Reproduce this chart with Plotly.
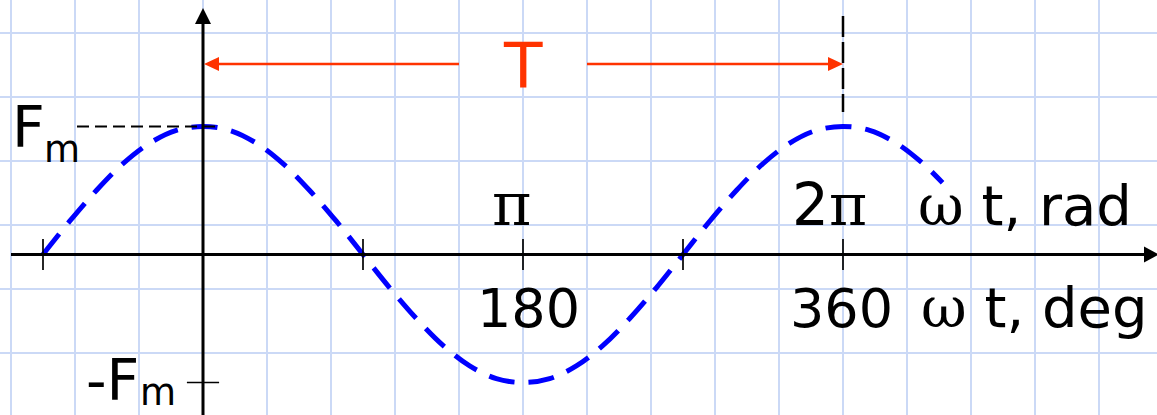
import plotly.graph_objects as go

# ---------------- data ----------------
curve_deg = [-90, -75, -60, -45, -30, -15, 0, 15, 30, 45, 60, 75, 90, 105, 120, 135,
             150, 165, 180, 195, 210, 225, 240, 255, 270, 285, 300, 315, 330, 345,
             360, 375, 390, 405, 416]
curve_val = [0, 0.26, 0.5, 0.71, 0.87, 0.97, 1, 0.97, 0.87, 0.71, 0.5, 0.26, 0,
             -0.26, -0.5, -0.71, -0.87, -0.97, -1, -0.97, -0.87, -0.71, -0.5, -0.26,
             0, 0.26, 0.5, 0.71, 0.87, 0.97, 1, 0.97, 0.87, 0.71, 0.56]
tick_deg = [-90, 90, 180, 270, 360]
deg_tick_labels = ["180", "360"]
deg_tick_pos = [180, 360]
period_deg = 360
amplitude = 1.0

# ---------------- layout geometry ----------------
W, H = 1157, 415
X0_PX, PX_PER_DEG = 203.0, 640.0 / 360.0
Y0_PX, PX_PER_UNIT = 254.5, 128.0


def dx(px):
    return (px - X0_PX) / PX_PER_DEG


def dy(py):
    return (Y0_PX - py) / PX_PER_UNIT


GRID = "#cbd9f6"
RED = "#ff3300"
SANS = "DejaVu Sans"
SERIF = "DejaVu Serif"

fig = go.Figure()

# cosine curve
fig.add_trace(go.Scatter(
    x=curve_deg, y=curve_val, mode="lines",
    line=dict(color="#0000ff", width=5, dash="26px,14px", shape="spline", smoothing=1),
    hoverinfo="skip", showlegend=False))

# ticks on the horizontal axis
fig.add_trace(go.Scatter(
    x=tick_deg, y=[0] * len(tick_deg), mode="markers",
    marker=dict(symbol="line-ns", size=22, line=dict(color="black", width=1.7)),
    hoverinfo="skip", showlegend=False))

# -Fm tick on the vertical axis
fig.add_trace(go.Scatter(
    x=[0], y=[-amplitude], mode="markers",
    marker=dict(symbol="line-ew", size=23, line=dict(color="black", width=1.7)),
    hoverinfo="skip", showlegend=False))

shapes = []
# horizontal axis
shapes.append(dict(type="line", xref="x", yref="y", x0=dx(11), x1=dx(1150), y0=0, y1=0,
                   line=dict(color="black", width=3)))
shapes.append(dict(type="path", xref="x", yref="y", xsizemode="pixel", ysizemode="pixel",
                   xanchor=dx(1159), yanchor=0, path="M0,0 L-15,8 L-15,-8 Z",
                   fillcolor="black", line=dict(width=0)))
# vertical axis
shapes.append(dict(type="line", xref="x", yref="y", x0=0, x1=0, y0=dy(430), y1=dy(18),
                   line=dict(color="black", width=3)))
shapes.append(dict(type="path", xref="x", yref="y", xsizemode="pixel", ysizemode="pixel",
                   xanchor=0, yanchor=dy(8), path="M0,0 L-8,-16 L8,-16 Z",
                   fillcolor="black", line=dict(width=0)))
# Fm dashed guide
shapes.append(dict(type="line", xref="x", yref="y", x0=dx(77), x1=dx(216),
                   y0=amplitude, y1=amplitude,
                   line=dict(color="black", width=2, dash="12px,6px")))
# vertical dashed guide at 2pi
shapes.append(dict(type="line", xref="x", yref="y", x0=period_deg, x1=period_deg,
                   y0=dy(16), y1=dy(112),
                   line=dict(color="black", width=2.5, dash="21px,5px")))
# period arrow T
yT = dy(64)
shapes.append(dict(type="line", xref="x", yref="y", x0=dx(210), x1=dx(459), y0=yT, y1=yT,
                   line=dict(color=RED, width=2.5)))
shapes.append(dict(type="line", xref="x", yref="y", x0=dx(587), x1=dx(836), y0=yT, y1=yT,
                   line=dict(color=RED, width=2.5)))
shapes.append(dict(type="path", xref="x", yref="y", xsizemode="pixel", ysizemode="pixel",
                   xanchor=0, yanchor=yT, path="M1,0 L16,7 L16,-7 Z",
                   fillcolor=RED, line=dict(width=0)))
shapes.append(dict(type="path", xref="x", yref="y", xsizemode="pixel", ysizemode="pixel",
                   xanchor=period_deg, yanchor=yT, path="M0,0 L-15,7 L-15,-7 Z",
                   fillcolor=RED, line=dict(width=0)))

ann = []


def label(text, px, py, size, xanchor="center", color="black", family=SANS):
    ann.append(dict(text=text, x=dx(px), y=dy(py), xref="x", yref="y", showarrow=False,
                    xanchor=xanchor, yanchor="middle",
                    font=dict(family=family, size=size, color=color)))


def span_serif(t):
    return "<span style=\"font-family:'DejaVu Serif'\">" + t + "</span>"


# T
label("T", 523, 87 - 0.346 * 63, 63, color=RED)
# Fm
label("F", 9.5, 147 - 0.346 * 57, 57, xanchor="left")
label("m", 42, 162 - 0.346 * 37, 37, xanchor="left")
# -Fm
label("-F", 84, 400 - 0.346 * 57, 57, xanchor="left")
label("m", 138, 405 - 0.346 * 37, 37, xanchor="left")
# radian labels
label(span_serif("π"), 511.5, 225 - 0.346 * 60, 60)
label("2" + span_serif("π"), 829, 225 - 0.346 * 58, 58)
label(span_serif("ω") + " t, rad", 916, 225 - 0.346 * 56, 56, xanchor="left")
# degree labels
label_px = {180: 528, 360: 841.5}
for pos, txt in zip(deg_tick_pos, deg_tick_labels):
    ann.append(dict(text=txt, x=dx(label_px[pos]),
                    y=dy(327 - 0.346 * 54), xref="x", yref="y", showarrow=False,
                    xanchor="center", yanchor="middle",
                    font=dict(family=SANS, size=54, color="black")))
label(span_serif("ω") + " t, deg", 919, 327 - 0.346 * 56, 56, xanchor="left")

fig.update_layout(
    width=W, height=H, margin=dict(l=0, r=0, t=0, b=0, pad=0),
    paper_bgcolor="white", plot_bgcolor="white",
    shapes=shapes, annotations=ann, showlegend=False,
    xaxis=dict(range=[dx(0), dx(W)], showgrid=True, gridcolor=GRID, gridwidth=1.6,
               tick0=dx(11), dtick=36, showticklabels=False, zeroline=False,
               showline=False, ticks="", fixedrange=True),
    yaxis=dict(range=[dy(H), dy(0)], showgrid=True, gridcolor=GRID, gridwidth=1.6,
               tick0=dy(33), dtick=0.5, showticklabels=False, zeroline=False,
               showline=False, ticks="", fixedrange=True),
)

fig.write_html("out.html", config={"displayModeBar": False},
               post_script="document.body.style.margin='0';document.body.style.overflow='hidden';")
